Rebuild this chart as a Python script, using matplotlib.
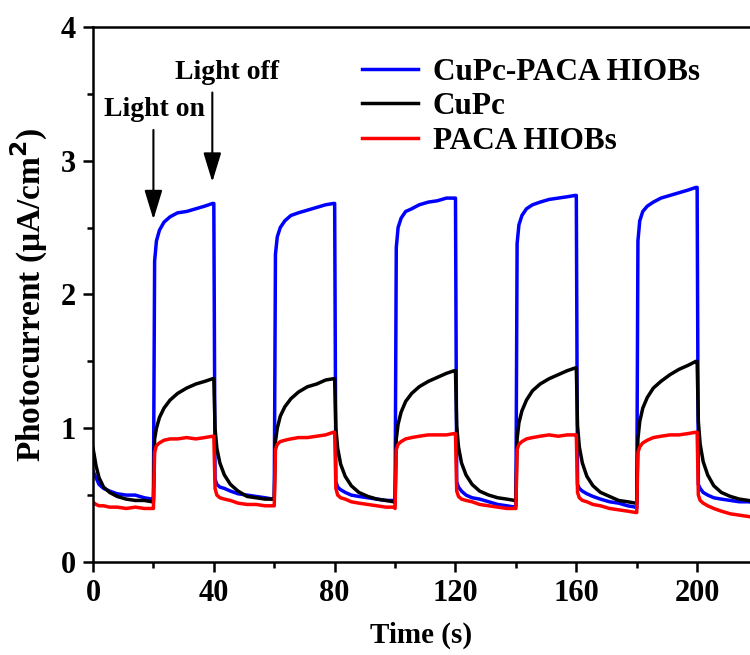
import matplotlib.pyplot as plt
from matplotlib.ticker import MultipleLocator

# sampling offsets inside each 20 s light on / light off segment
OFFS = [0, 0.4, 1, 2, 3.5, 5.5, 8, 11, 14, 17, 19.6]
SEG_STARTS = [0, 20, 40, 60, 80, 100, 120, 140, 160, 180, 200]
t = [s + d for s in SEG_STARTS for d in OFFS]

blue = [
    0.68, 0.66, 0.63, 0.58, 0.55, 0.53, 0.51, 0.50, 0.50, 0.48, 0.47,
    0.47, 2.25, 2.40, 2.48, 2.54, 2.58, 2.61, 2.62, 2.64, 2.66, 2.68,
    2.68, 0.62, 0.58, 0.56, 0.55, 0.53, 0.51, 0.50, 0.49, 0.48, 0.47,
    0.47, 2.30, 2.43, 2.50, 2.55, 2.59, 2.61, 2.63, 2.65, 2.67, 2.68,
    2.68, 0.60, 0.56, 0.54, 0.52, 0.50, 0.49, 0.48, 0.47, 0.46, 0.46,
    0.44, 2.35, 2.50, 2.57, 2.62, 2.64, 2.67, 2.69, 2.70, 2.72, 2.72,
    2.72, 0.60, 0.56, 0.53, 0.50, 0.48, 0.47, 0.45, 0.43, 0.42, 0.41,
    0.42, 2.38, 2.52, 2.59, 2.64, 2.67, 2.69, 2.71, 2.72, 2.73, 2.74,
    2.74, 0.58, 0.55, 0.53, 0.51, 0.49, 0.47, 0.45, 0.44, 0.42, 0.41,
    0.40, 2.40, 2.55, 2.62, 2.66, 2.69, 2.72, 2.74, 2.76, 2.78, 2.80,
    2.80, 0.58, 0.55, 0.52, 0.50, 0.48, 0.47, 0.46, 0.45, 0.45, 0.44,
]

black = [
    0.85, 0.80, 0.72, 0.63, 0.56, 0.52, 0.49, 0.47, 0.46, 0.46, 0.45,
    0.45, 0.92, 1.00, 1.08, 1.15, 1.21, 1.26, 1.30, 1.33, 1.35, 1.37,
    1.37, 1.00, 0.85, 0.74, 0.65, 0.58, 0.53, 0.49, 0.48, 0.47, 0.47,
    0.47, 0.90, 1.00, 1.09, 1.16, 1.22, 1.27, 1.31, 1.33, 1.36, 1.37,
    1.37, 1.00, 0.85, 0.73, 0.64, 0.57, 0.52, 0.49, 0.47, 0.46, 0.45,
    0.45, 0.92, 1.03, 1.12, 1.20, 1.26, 1.31, 1.35, 1.38, 1.41, 1.43,
    1.43, 1.02, 0.86, 0.74, 0.65, 0.58, 0.53, 0.50, 0.48, 0.47, 0.46,
    0.46, 0.92, 1.04, 1.13, 1.21, 1.28, 1.33, 1.37, 1.40, 1.43, 1.45,
    1.45, 1.02, 0.86, 0.74, 0.64, 0.57, 0.52, 0.49, 0.46, 0.45, 0.44,
    0.44, 0.92, 1.05, 1.15, 1.23, 1.30, 1.35, 1.40, 1.44, 1.47, 1.50,
    1.50, 1.05, 0.88, 0.75, 0.65, 0.57, 0.52, 0.49, 0.47, 0.46, 0.45,
]

red = [
    0.45, 0.44, 0.43, 0.42, 0.42, 0.41, 0.41, 0.40, 0.41, 0.40, 0.40,
    0.40, 0.82, 0.87, 0.89, 0.91, 0.92, 0.92, 0.93, 0.92, 0.93, 0.94,
    0.94, 0.55, 0.50, 0.48, 0.47, 0.46, 0.44, 0.43, 0.43, 0.42, 0.42,
    0.42, 0.84, 0.88, 0.90, 0.91, 0.92, 0.93, 0.93, 0.94, 0.95, 0.97,
    0.97, 0.55, 0.50, 0.48, 0.47, 0.45, 0.44, 0.43, 0.42, 0.41, 0.41,
    0.40, 0.84, 0.88, 0.90, 0.92, 0.93, 0.94, 0.95, 0.95, 0.95, 0.96,
    0.96, 0.53, 0.49, 0.47, 0.46, 0.45, 0.43, 0.42, 0.41, 0.40, 0.40,
    0.40, 0.84, 0.88, 0.90, 0.92, 0.93, 0.94, 0.95, 0.94, 0.95, 0.95,
    0.95, 0.52, 0.48, 0.46, 0.45, 0.43, 0.42, 0.40, 0.39, 0.38, 0.37,
    0.37, 0.82, 0.86, 0.89, 0.91, 0.93, 0.94, 0.95, 0.95, 0.96, 0.97,
    0.97, 0.50, 0.46, 0.44, 0.42, 0.40, 0.38, 0.36, 0.35, 0.34, 0.33,
]

labels = ["CuPc-PACA HIOBs", "CuPc", "PACA HIOBs"]
colors = ["#0000ff", "#000000", "#ff0000"]

plt.rcParams['font.family'] = ['Liberation Serif', 'DejaVu Serif']
plt.rcParams['font.weight'] = 'bold'

fig = plt.figure(figsize=(7.5, 6.55), dpi=100)
ax = fig.add_axes([0.124, 0.142, 0.876, 0.817])

for y, c, lab in zip([blue, black, red], colors, labels):
    ax.plot(t, y, color=c, lw=2.5, label=lab)

ax.set_xlim(0, 217.5)
ax.set_ylim(0, 4)
ax.xaxis.set_major_locator(MultipleLocator(40))
ax.xaxis.set_minor_locator(MultipleLocator(20))
ax.yaxis.set_major_locator(MultipleLocator(1))
ax.yaxis.set_minor_locator(MultipleLocator(0.5))
ax.tick_params(which='major', direction='out', length=7, width=1.8, labelsize=22, pad=5)
ax.tick_params(which='minor', direction='out', length=4, width=1.8)
for side in ['left', 'bottom', 'top']:
    ax.spines[side].set_linewidth(1.8)
ax.spines['right'].set_visible(False)
for lbl in ax.get_xticklabels() + ax.get_yticklabels():
    lbl.set_fontweight('bold')

ax.set_xlabel("Time (s)", fontsize=21, fontweight='bold', labelpad=10)
ax.set_ylabel("Photocurrent (μA/cm$^\\mathbf{2}$)", fontsize=24, fontweight='bold', labelpad=8)

ax.legend(loc='upper left', bbox_to_anchor=(0.367, 0.995), frameon=False,
          handlelength=1.8, handletextpad=0.45, labelspacing=0.18,
          prop={'weight': 'bold', 'size': 22.5})

arrow = dict(arrowstyle='-|>,head_width=0.55,head_length=1.8', color='black', lw=1.5)
ax.annotate("", xy=(20, 2.54), xytext=(20, 3.25), arrowprops=arrow)
ax.annotate("", xy=(39.5, 2.82), xytext=(39.5, 3.53), arrowprops=arrow)
ax.text(20.5, 3.38, "Light on", ha='center', va='center', fontsize=20, fontweight='bold')
ax.text(44.5, 3.66, "Light off", ha='center', va='center', fontsize=20, fontweight='bold')

fig.savefig("out.png", dpi=100)
